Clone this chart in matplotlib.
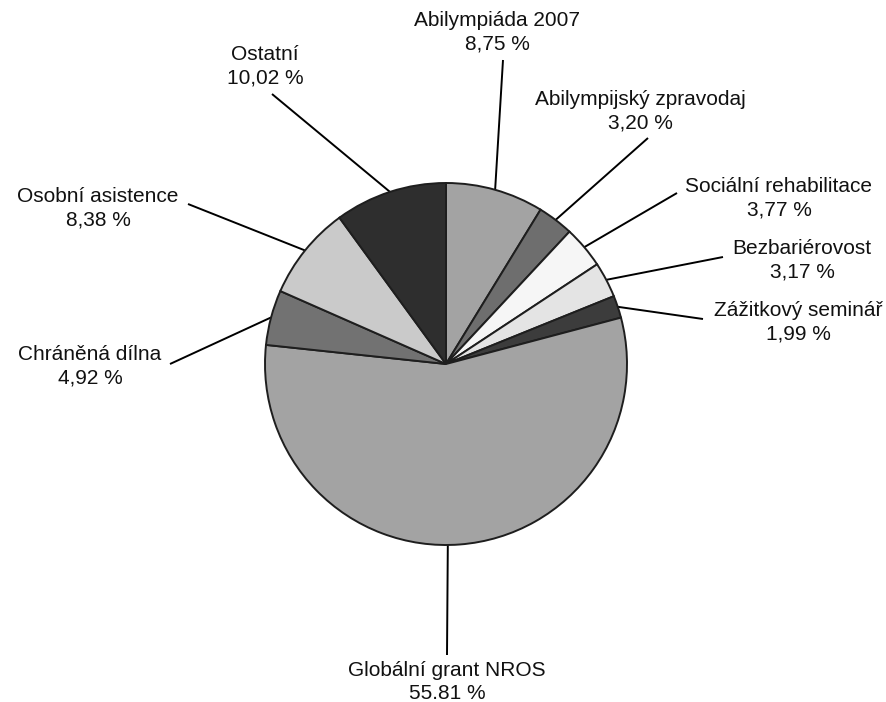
import matplotlib
matplotlib.use('Agg')
import matplotlib.pyplot as plt
import numpy as np

# --- DATA ---
labels = ['Abilympiáda 2007', 'Abilympijský zpravodaj', 'Sociální rehabilitace',
          'Bezbariérovost', 'Zážitkový seminář', 'Globální grant NROS',
          'Chráněná dílna', 'Osobní asistence', 'Ostatní']
shares = [8.75, 3.20, 3.77, 3.17, 1.99, 55.81, 4.92, 8.38, 10.02]
share_text = ['8,75 %', '3,20 %', '3,77 %', '3,17 %', '1,99 %', '55.81 %',
              '4,92 %', '8,38 %', '10,02 %']

# --- STYLE ---
colors = ['#a3a3a3', '#6e6e6e', '#f6f6f6', '#e4e4e4', '#3c3c3c', '#a3a3a3',
          '#727272', '#cacaca', '#2e2e2e']

W, H = 886, 702
def py(y):
    # pixel row -> data y
    return H - y

# label block centre and leader end point, in pixels
label_pos = [(497, 32), (640, 111), (779, 198), (802, 260), (798, 322),
             (447, 682), (90, 366), (98, 208), (265, 66)]
leader_end = [(503, 60), (648, 138), (677, 193), (723, 257), (703, 319),
              (447, 655), (170, 364), (188, 204), (272, 94)]
# where along each wedge (0..1, clockwise) the leader leaves the edge
leader_frac = [0.5, 0.5, 0.5, 0.5, 0.5, 0.519, 0.5, 0.5, 0.5]

fig = plt.figure(figsize=(W / 100, H / 100), dpi=100)
ax = fig.add_axes([0, 0, 1, 1])

cx, cy, r = 446, py(364), 181
wedges, _ = ax.pie(shares, colors=colors, startangle=90, counterclock=False,
                   center=(cx, cy), radius=r, frame=True,
                   wedgeprops=dict(edgecolor='#1e1e1e', linewidth=1.4))
ax.set_xlim(0, W)
ax.set_ylim(0, H)
ax.set_aspect('equal')
ax.axis('off')

for w, name, pct, (tx, ty), (ex, ey), f in zip(wedges, labels, share_text,
                                                 label_pos, leader_end, leader_frac):
    # wedges run clockwise: theta2 -> theta1
    ang = np.deg2rad(w.theta2 - f * (w.theta2 - w.theta1))
    sx, sy = cx + r * np.cos(ang), cy + r * np.sin(ang)
    ax.plot([sx, ex], [sy, py(ey)], color='black', lw=1.4, zorder=0.5,
            solid_capstyle='butt')
    ax.text(tx, py(ty), name + '\n' + pct, ha='center', va='center',
            fontsize=15, family='Liberation Sans', color='#111111',
            linespacing=1.32)

fig.savefig('out.png', dpi=100, facecolor='white')
